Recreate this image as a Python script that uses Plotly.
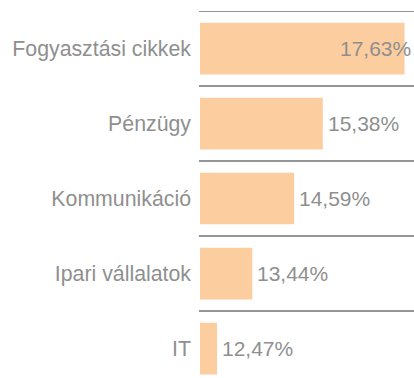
import plotly.graph_objects as go

# Sector weights (%)
sectors = ["Fogyasztási cikkek", "Pénzügy", "Kommunikáció", "Ipari vállalatok", "IT"]
weights = [17.63, 15.38, 14.59, 13.44, 12.47]

BAR = "#fbcd9f"
TEXT = "#8f8f8f"
RULE = "#959595"
FONT = "Liberation Sans, Arial, sans-serif"

fig = go.Figure(
    go.Bar(
        x=weights,
        y=sectors,
        orientation="h",
        marker=dict(color=BAR, line=dict(width=0)),
        width=0.69,
        hoverinfo="skip",
    )
)

# Value labels: the largest one sits on the bar end, the rest just past it
for i, (s, w) in enumerate(zip(sectors, weights)):
    first = i == 0
    fig.add_annotation(
        x=w, y=s, xref="x", yref="y",
        text=f"{w:.2f}%".replace(".", ","),
        showarrow=False,
        xanchor="right" if first else "left",
        xshift=8 if first else 3,
        font=dict(family=FONT, size=21, color=TEXT),
    )

# Separator rules above each category row
n = len(sectors)
for i in range(n):
    fig.add_shape(
        type="line", xref="paper", yref="y",
        x0=-0.005, x1=1, y0=i - 0.5, y1=i - 0.5,
        line=dict(color=RULE, width=2.2), layer="above",
    )

fig.update_layout(
    width=414, height=378,
    margin=dict(l=200, r=0, t=11, b=0),
    paper_bgcolor="white", plot_bgcolor="white",
    showlegend=False,
    font=dict(family=FONT, color=TEXT),
)
fig.update_xaxes(range=[12, 17.89], visible=False, showgrid=False, zeroline=False)
fig.update_yaxes(
    categoryorder="array", categoryarray=sectors,
    range=[n - 0.5 - (75 * n - 367) / 75, -0.5],
    showgrid=False, zeroline=False, showline=False,
    ticks="", ticklabelstandoff=8,
    tickfont=dict(family=FONT, size=21.3, color=TEXT),
)

fig.write_html("out.html")
